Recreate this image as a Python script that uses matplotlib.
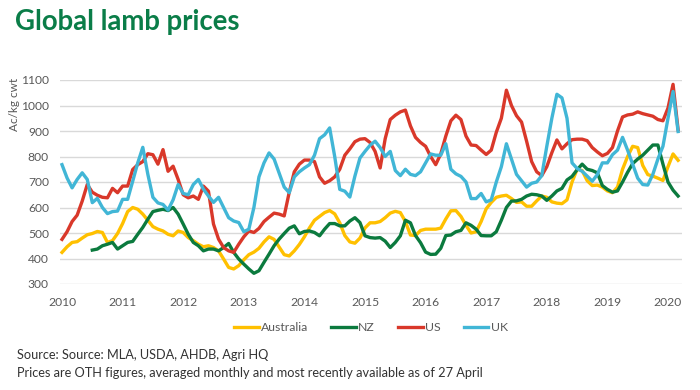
import numpy as np
import matplotlib.pyplot as plt

# monthly prices, Jan 2010 - Mar 2020 (Ac/kg cwt)
australia = [424, 446, 463, 466, 480, 493, 498, 506, 502, 463, 470, 498,
             537, 584, 600, 593, 574, 550, 525, 515, 508, 495, 489, 508,
             502, 482, 470, 456, 446, 450, 443, 430, 398, 365, 359, 372,
             395, 415, 425, 440, 465, 485, 475, 445, 415, 410, 430, 455,
             485, 520, 550, 565, 580, 588, 575, 540, 490, 465, 460, 480,
             520, 540, 540, 545, 560, 578, 585, 580, 545, 492, 490, 510,
             515, 515, 515, 519, 555, 587, 588, 565, 530, 500, 505, 545,
             595, 620, 640, 645, 648, 635, 620, 622, 605, 605, 626, 645,
             640, 622, 617, 615, 630, 700, 750, 745, 705, 686, 688, 680,
             665, 658, 680, 750, 800, 840, 835, 765, 729, 723, 715, 706,
             760, 810, 785]
nz = [np.nan] * 6 + [
             433, 437, 450, 456, 463, 437,
             450, 463, 467, 495, 522, 554, 584, 589, 593, 588, 600, 574,
             535, 495, 463, 450, 430, 437, 437, 430, 443, 459, 424, 398,
             378, 359, 342, 352, 385, 417, 450, 476, 498, 519, 528, 497,
             506, 508, 502, 489, 515, 537, 537, 528, 528, 547, 560, 541,
             489, 482, 480, 482, 468, 443, 463, 489, 550, 540, 490, 462,
             425, 416, 417, 440, 490, 492, 505, 510, 540, 530, 515, 490,
             489, 489, 505, 550, 600, 625, 626, 632, 645, 652, 650, 645,
             628, 645, 665, 675, 708, 722, 748, 770, 750, 745, 736, 686,
             671, 660, 665, 700, 738, 772, 790, 805, 825, 845, 845, 770,
             700, 668, 645]
us = [475, 505, 545, 570, 625, 690, 660, 648, 640, 638, 675, 658,
      684, 684, 749, 768, 780, 811, 807, 770, 827, 742, 762, 710,
      650, 638, 645, 632, 684, 664, 535, 476, 443, 430, 424, 456,
      485, 508, 502, 518, 545, 562, 578, 574, 567, 660, 740, 770,
      786, 786, 780, 720, 695, 705, 720, 750, 805, 830, 858, 868,
      870, 855, 820, 755, 870, 945, 962, 975, 982, 920, 875, 855,
      840, 800, 768, 810, 880, 940, 962, 945, 880, 845, 843, 825,
      808, 825, 895, 950, 1060, 1000, 960, 935, 860, 780, 740, 725,
      760, 815, 865, 830, 850, 866, 868, 868, 862, 835, 818, 803,
      812, 835, 900, 955, 963, 966, 975, 968, 963, 958, 945, 940,
      990, 1083, 905]
uk = [768, 716, 677, 710, 736, 710, 619, 636, 600, 576, 584, 586,
      632, 632, 703, 775, 836, 730, 640, 618, 612, 590, 630, 690,
      655, 650, 690, 710, 672, 645, 620, 640, 600, 560, 547, 541,
      505, 515, 600, 720, 775, 814, 790, 735, 680, 658, 720, 740,
      755, 768, 805, 870, 885, 912, 800, 671, 664, 641, 723, 794,
      820, 844, 860, 835, 800, 820, 745, 725, 750, 730, 725, 740,
      775, 810, 805, 805, 850, 750, 732, 722, 700, 635, 635, 655,
      622, 630, 700, 760, 850, 790, 730, 705, 680, 695, 700, 725,
      840, 950, 1044, 1030, 950, 775, 753, 742, 723, 703, 729, 775,
      775, 807, 825, 875, 825, 770, 715, 690, 688, 730, 790, 840,
      950, 1055, 898]

years = list(range(2010, 2021))
t = 2010 + np.arange(len(us)) / 12.0

series = [("Australia", australia, "#FFC000"),
          ("NZ", nz, "#0B7A3E"),
          ("US", us, "#D9382A"),
          ("UK", uk, "#41B6D6")]

plt.rcParams['font.family'] = ['Lato', 'DejaVu Sans']

fig = plt.figure(figsize=(7, 3.9), dpi=100)
ax = fig.add_axes([60/700, 1 - 284/390, 622/700, 204/390])

for name, vals, col in series:
    ax.plot(t, vals, color=col, lw=2.4, label=name, clip_on=False,
            solid_joinstyle='round')

ax.set_xlim(2010 - 2/60.6, 2010 + 620/60.6)
ax.set_ylim(300, 1100)
ax.set_yticks(range(300, 1101, 100))
ax.set_xticks(years)
ax.grid(axis='y', color='#D9D9D9', lw=1)
ax.set_axisbelow(True)
for s in ax.spines.values():
    s.set_visible(False)
ax.tick_params(length=0, labelsize=8.7, labelcolor='#595959')
ax.tick_params(axis='y', pad=8)
ax.tick_params(axis='x', pad=9)

fig.text(15/700, 1 - 78/390, "Ac/kg cwt", rotation=90, va='top', ha='center',
         fontsize=8.5, color='#595959')
fig.text(15/700, 1 - 22/390, "Global lamb prices", fontsize=19.8, fontweight='bold',
         color='#0A7D48', va='center', ha='left')

leg = ax.legend(loc='center', bbox_to_anchor=(0.5, -0.215), ncol=4, frameon=False,
                fontsize=8.8, handlelength=2.0, handletextpad=0.2, columnspacing=1.9)
for txt in leg.get_texts():
    txt.set_color('#595959')

fig.text(17/700, 1 - 355/390, "Source: Source: MLA, USDA, AHDB, Agri HQ",
         fontsize=9.2, color='#333333', va='center')
fig.text(17/700, 1 - 373/390,
         "Prices are OTH figures, averaged monthly and most recently available as of 27 April",
         fontsize=9.2, color='#333333', va='center')

fig.savefig("out.png", dpi=100)
